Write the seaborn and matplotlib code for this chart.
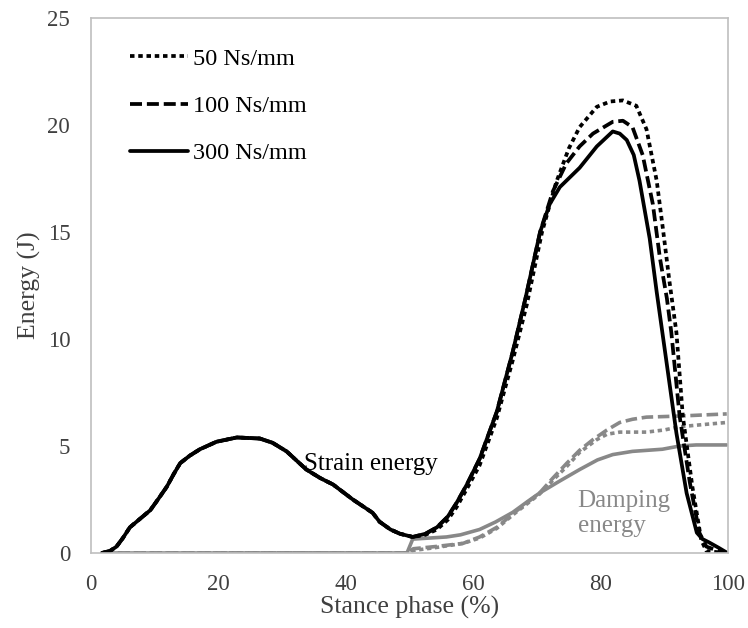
import numpy as np
import pandas as pd
import matplotlib
matplotlib.use("Agg")
import matplotlib.pyplot as plt
import seaborn as sns

# ---- data ----
strain_early_x = [1.7, 3, 4, 5, 6.1, 7.5, 9.3, 10.5, 11.9, 13, 14, 15.5, 17.1, 19.7, 22.9,
                  26.5, 28.5, 30.7, 33.8, 36, 38, 41.1, 44.2, 45.3, 47, 48.5, 50.5]
strain_early_y = [0, 0.1, 0.3, 0.7, 1.2, 1.55, 2.0, 2.5, 3.1, 3.7, 4.2, 4.55, 4.85, 5.2, 5.4,
                  5.35, 5.15, 4.75, 3.9, 3.5, 3.2, 2.5, 1.88, 1.46, 1.1, 0.9, 0.75]

strain300_x = [52.5, 54.3, 56, 57.4, 59, 61, 63.7, 66.2, 68.2, 70.5, 72, 73.6, 76.7, 79.4,
               81.9, 83, 84.1, 85.2, 86.1, 87.7, 88.8, 90.4, 91.9, 93.5, 95.1, 96, 97, 98.5, 99.8]
strain300_y = [0.9, 1.2, 1.7, 2.35, 3.2, 4.4, 6.6, 9.4, 11.9, 15.0, 16.3, 17.1, 18.0, 19.0,
               19.7, 19.6, 19.3, 18.6, 17.4, 14.7, 12.2, 8.8, 5.6, 2.8, 0.95, 0.65, 0.5, 0.25, 0.02]

strain100_x = [52.5, 54.3, 56, 57.4, 59, 61, 63.7, 66.2, 68.2, 70.5, 72.5, 74.6, 76.7, 78.8,
               81.9, 83.5, 85, 86.6, 88.2, 89.3, 90.4, 91.1, 92.4, 94, 95.5, 96.6, 98, 99.8]
strain100_y = [0.9, 1.2, 1.7, 2.35, 3.2, 4.4, 6.6, 9.4, 11.9, 15.0, 16.9, 18.2, 19.0, 19.6,
               20.15, 20.2, 19.9, 18.6, 16.3, 13.8, 11.9, 10.3, 6.4, 3.3, 0.95, 0.3, 0.15, 0]

strain50_x = [52.5, 54.3, 56, 57.4, 59, 61, 63.7, 66.2, 68.4, 70.8, 73, 75, 76.7, 79.4,
              81.5, 83.5, 85.6, 87.2, 88.8, 89.8, 90.8, 91.9, 92.9, 94.4, 95.8, 96.6, 98, 99.8]
strain50_y = [0.85, 1.1, 1.55, 2.15, 3.0, 4.1, 6.3, 9.0, 11.6, 15.0, 17.3, 18.9, 19.9, 20.85,
              21.1, 21.15, 20.9, 19.8, 17.4, 15.1, 12.7, 10.3, 6.4, 3.1, 0.6, 0.1, 0.05, 0]

damp300_x = [1.7, 49.6, 50.5, 55.8, 58, 61, 63.5, 66.2, 68.5, 70.4, 73.5, 76.7, 79.5, 81.9,
             85, 89.7, 92.4, 95, 99.8]
damp300_y = [0, 0, 0.65, 0.75, 0.85, 1.1, 1.45, 1.9, 2.4, 2.8, 3.35, 3.9, 4.35, 4.6,
             4.75, 4.85, 5.0, 5.05, 5.05]

damp100_x = [1.7, 49.6, 50.6, 54, 58.4, 61, 63.7, 66.5, 70.4, 72.5, 74.7, 76.7, 78.8, 81,
             83, 85, 87.2, 92.4, 96, 99.8]
damp100_y = [0, 0, 0.2, 0.3, 0.45, 0.75, 1.2, 1.9, 2.8, 3.5, 4.2, 4.8, 5.3, 5.75,
             6.1, 6.25, 6.35, 6.4, 6.45, 6.5]

damp50_x = [1.7, 49.6, 50.6, 54, 58.4, 61, 63.7, 66.5, 70.4, 72.5, 74.7, 76.7, 79.4, 81,
            83, 87.2, 90, 92.4, 96, 99.8]
damp50_y = [0, 0, 0.12, 0.25, 0.45, 0.7, 1.15, 1.85, 2.75, 3.4, 4.05, 4.7, 5.3, 5.55,
            5.65, 5.65, 5.75, 5.9, 6.0, 6.1]

labels = ["50 Ns/mm", "100 Ns/mm", "300 Ns/mm"]
x_ticks = [0, 20, 40, 60, 80, 100]
y_ticks = [0, 5, 10, 15, 20, 25]

# ---- style ----
sns.set_style("white")
plt.rcParams["font.family"] = ["Liberation Serif", "DejaVu Serif"]
TXT = "#404040"
GRAY = "#888888"

fig = plt.figure(figsize=(7.48, 6.28), dpi=100)
ax = fig.add_axes([0.1217, 0.1194, 0.9733 - 0.1217, 0.9713 - 0.1194])

dotted = (0, (1.2, 1.0))
dashed = (0, (3.2, 1.3))
styles = {"50 Ns/mm": dotted, "100 Ns/mm": dashed, "300 Ns/mm": "-"}

strain = {
    "50 Ns/mm": (strain50_x, strain50_y),
    "100 Ns/mm": (strain100_x, strain100_y),
    "300 Ns/mm": (strain300_x, strain300_y),
}
damp = {
    "50 Ns/mm": (damp50_x, damp50_y),
    "100 Ns/mm": (damp100_x, damp100_y),
    "300 Ns/mm": (damp300_x, damp300_y),
}

# damping (gray)
for lab in labels:
    dx, dy = damp[lab]
    df = pd.DataFrame({"x": dx, "y": dy})
    sns.lineplot(data=df, x="x", y="y", ax=ax, color=GRAY, lw=2.6,
                 linestyle=styles[lab], sort=False, estimator=None)

# strain (black)
handles = []
for lab in labels:
    sx, sy = strain[lab]
    df = pd.DataFrame({"x": list(strain_early_x) + list(sx),
                       "y": list(strain_early_y) + list(sy)})
    sns.lineplot(data=df, x="x", y="y", ax=ax, color="black", lw=2.7,
                 linestyle=styles[lab], sort=False, estimator=None)
    handles.append(ax.lines[-1])

leg = ax.legend(handles, labels, loc="upper left", bbox_to_anchor=(0.061, 0.944),
                frameon=False, fontsize=17.5, handlelength=2.4, handletextpad=0.2,
                labelspacing=1.03, borderaxespad=0, borderpad=0)
for t in leg.get_texts():
    t.set_color("black")

ax.set_xlim(0, 100)
ax.set_ylim(0, 25)
ax.set_xticks(x_ticks)
ax.set_yticks(y_ticks)
ax.tick_params(direction="in", length=5, width=1, color="#bfbfbf",
               labelsize=16.5, labelcolor=TXT, pad=15)
for s in ax.spines.values():
    s.set_color("#bfbfbf")
    s.set_linewidth(1.2)

ax.set_xlabel("Stance phase (%)", fontsize=18.5, color=TXT, labelpad=1)
ax.set_ylabel("Energy (J)", fontsize=18.5, color=TXT, labelpad=5)

ax.text(44, 4.15, "Strain energy", fontsize=18, color="black", ha="center", va="center")
ax.text(76.4, 1.86, "Damping\nenergy", fontsize=18, color=GRAY, ha="left", va="center",
        linespacing=1.2)

fig.savefig("out.png", dpi=100)
